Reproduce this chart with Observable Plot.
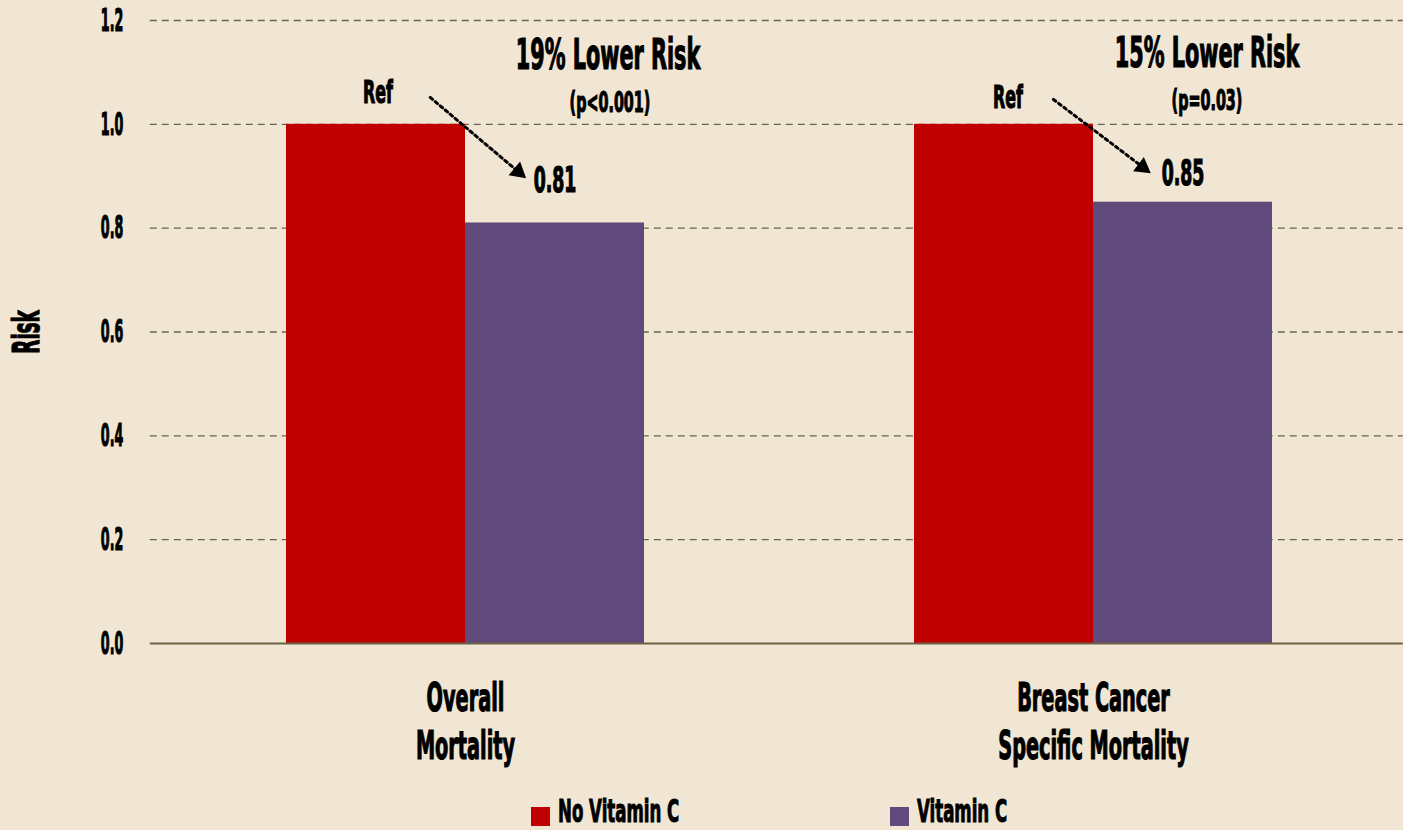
<!DOCTYPE html>
<html>
<head>
<meta charset="utf-8">
<script src="https://cdn.jsdelivr.net/npm/d3@7"></script>
<script src="https://cdn.jsdelivr.net/npm/@observablehq/plot@0.6"></script>
<style>
  html, body { margin: 0; padding: 0; background: #f1e6d3; overflow: hidden; }
  #chart { width: 1403px; }
  .legend { position: relative; width: 1403px; height: 30px; font-family: "DejaVu Sans Condensed", "DejaVu Sans", sans-serif; font-weight: bold; }
  .legend .sw { position: absolute; top: 7px; width: 19px; height: 19px; }
  .legend .lb { position: absolute; top: -4px; font-size: 32px; line-height: 30px; color: #000; transform: scaleX(0.577); transform-origin: 0 50%; white-space: nowrap; -webkit-text-stroke: 1px #000; }
</style>
</head>
<body>
<div id="chart"></div>
<script>
// ---- data ----
const categories = ["Overall Mortality", "Breast Cancer Specific Mortality"];
const categoryLabels = ["Overall\nMortality", "Breast Cancer\nSpecific Mortality"];
const series = ["No Vitamin C", "Vitamin C"];
const noVitaminC = [1.0, 1.0];
const vitaminC = [0.81, 0.85];
const valueLabels = ["0.81", "0.85"];
const riskTitles = ["19% Lower Risk", "15% Lower Risk"];
const pValues = ["(p<0.001)", "(p=0.03)"];
const refLabel = "Ref";
const yLabel = "Risk";
const yTicks = [0, 0.2, 0.4, 0.6, 0.8, 1.0, 1.2];
const colors = ["#c00000", "#604a7b"];
// arrow anchors (risk units) at the No Vitamin C / Vitamin C bar centres
const arrowFrom = [1.140, 1.120];
const arrowTo = [0.849, 0.859];

const table = [];
categories.forEach((c, i) => {
  table.push({category: c, series: series[0], value: noVitaminC[i]});
  table.push({category: c, series: series[1], value: vitaminC[i]});
});

const FONT = '"DejaVu Sans Condensed", "DejaVu Sans", sans-serif';

// layout
const W = 1403, H = 800, ML = 150, MR = 0, MT = 20, MB = 157;
const PAD_IN = 0.43, PAD_OUT = 0.2126, ALIGN = 0.51;
// same band layout as the fx scale, used to let rules / axis span the full frame
const fxLayout = d3.scaleBand(categories, [ML, W - MR]).paddingInner(PAD_IN).paddingOuter(PAD_OUT).align(ALIGN);
const facetLeft = fxLayout(categories[0]) - ML;
const gridInsetLeft = -facetLeft;
const gridInsetRight = -((W - MR) - fxLayout(categories[0]) - fxLayout.bandwidth());

// per-group annotation styling offsets
const ann = [
  {refDx: 2, refDy: -32, valDy: -42, titleDx: 53, titleDy: 35, pDx: 55, pDy: 82,
   insetStart: 71, insetEnd: 46, headDx: -36.7, headDy: -31, rot: 130},
  {refDx: 4, refDy: -27, valDy: -28, titleDx: 24, titleDy: 33, pDx: 24, pDy: 80,
   insetStart: 62, insetEnd: 49, headDx: -40.4, headDy: -30.4, rot: 127}
];

const annMarks = [];
categories.forEach((c, i) => {
  const a = ann[i];
  const d = [{category: c, i}];
  annMarks.push(
    Plot.arrow(d, {fx: "category", x1: () => series[0], x2: () => series[1],
      y1: () => arrowFrom[i], y2: () => arrowTo[i], headLength: 0,
      insetStart: a.insetStart, insetEnd: a.insetEnd,
      stroke: "#000", strokeWidth: 3, strokeDasharray: "3,3.5", ariaLabel: "arrow"}),
    Plot.dot(d, {fx: "category", x: () => series[1], y: () => arrowTo[i],
      symbol: "triangle", r: 6.6, fill: "#000", stroke: "none", rotate: a.rot,
      dx: a.headDx, dy: a.headDy, ariaLabel: "arrow-head"}),
    Plot.text(d, {fx: "category", x: () => series[0], y: () => noVitaminC[i],
      text: () => refLabel, dx: a.refDx, dy: a.refDy, fontSize: 32, ariaLabel: "ref-label"}),
    Plot.text(d, {fx: "category", x: () => series[1], y: () => vitaminC[i],
      text: () => valueLabels[i], dy: a.valDy, fontSize: 35, ariaLabel: "value-label"}),
    Plot.text(d, {fx: "category", x: () => series[1], y: () => yTicks[yTicks.length - 1],
      text: () => riskTitles[i], dx: a.titleDx, dy: a.titleDy, fontSize: 42, ariaLabel: "risk-title"}),
    Plot.text(d, {fx: "category", x: () => series[1], y: () => yTicks[yTicks.length - 1],
      text: () => pValues[i], dx: a.pDx, dy: a.pDy, fontSize: 29, ariaLabel: "p-value"})
  );
});

const plot = Plot.plot({
  width: W,
  height: H,
  marginLeft: ML,
  marginRight: MR,
  marginTop: MT,
  marginBottom: MB,
  style: {background: "transparent", fontFamily: FONT, fontWeight: "bold", color: "#000", overflow: "visible"},
  fx: {domain: categories, paddingInner: PAD_IN, paddingOuter: PAD_OUT, align: ALIGN, axis: null, label: null},
  x: {domain: series, padding: 0, axis: null},
  y: {domain: [0, 1.2], axis: null},
  color: {domain: series, range: colors},
  marks: [
    Plot.ruleY(yTicks.filter(t => t > 0), {fx: () => categories[0], y: d => d,
      insetLeft: gridInsetLeft, insetRight: gridInsetRight,
      stroke: "#6b6450", strokeWidth: 1.3, strokeDasharray: "7,5", ariaLabel: "grid"}),
    Plot.barY(table, {fx: "category", x: "series", y: "value", fill: "series"}),
    Plot.ruleY([0], {fx: () => categories[0], y: d => d,
      insetLeft: gridInsetLeft, insetRight: gridInsetRight,
      stroke: "#6b6245", strokeWidth: 2, ariaLabel: "baseline"}),
    Plot.axisY({ticks: yTicks, tickFormat: d3.format(".1f"), tickSize: 0, tickPadding: 27 + facetLeft, fontSize: 32, label: null}),
    Plot.axisFx({anchor: "bottom", tickSize: 0, tickPadding: 33, lineAnchor: "top", fontSize: 39, lineHeight: 1.23,
      tickFormat: d => categoryLabels[categories.indexOf(d)], label: null}),
    Plot.text([yLabel], {fx: () => categories[0], frameAnchor: "left", textAnchor: "middle", text: d => d,
      rotate: -90, dx: 27 - ML - facetLeft, fontSize: 37, ariaLabel: "y-label"}),
    ...annMarks
  ]
});

// condense glyphs horizontally (reference uses a very condensed, heavy typeface)
const scaleFor = {
  "y-axis tick label": 0.44,
  "fx-axis tick label": 0.55,
  "risk-title": 0.54,
  "p-value": 0.82,
  "ref-label": 0.56,
  "value-label": 0.46,
  "y-label": 0.59
};
d3.select(plot).selectAll("text").each(function() {
  const g = this.closest("g[aria-label]");
  const label = g ? g.getAttribute("aria-label") : "";
  const s = scaleFor[label] ?? 0.55;
  let t = this.getAttribute("transform");
  if (!t) {
    const x = +this.getAttribute("x") || 0, y = +this.getAttribute("y") || 0;
    this.removeAttribute("x"); this.removeAttribute("y");
    t = `translate(${x},${y})`;
  }
  this.setAttribute("transform", `${t} scale(${s},1)`);
  this.style.stroke = "#000";
  this.style.strokeWidth = s < 0.7 ? "1.2px" : "0.4px";
});

const chart = document.getElementById("chart");
chart.appendChild(plot);

// legend (built from the plot's colour scale)
const cs = plot.scale("color");
const legend = d3.select(chart).append("div").attr("class", "legend");
const legendLeft = [531, 890];
cs.domain.forEach((name, i) => {
  legend.append("div").attr("class", "sw").style("left", legendLeft[i] + "px").style("background", cs.range[i]);
  legend.append("div").attr("class", "lb").style("left", (legendLeft[i] + 27) + "px").text(name);
});
</script>
</body>
</html>
